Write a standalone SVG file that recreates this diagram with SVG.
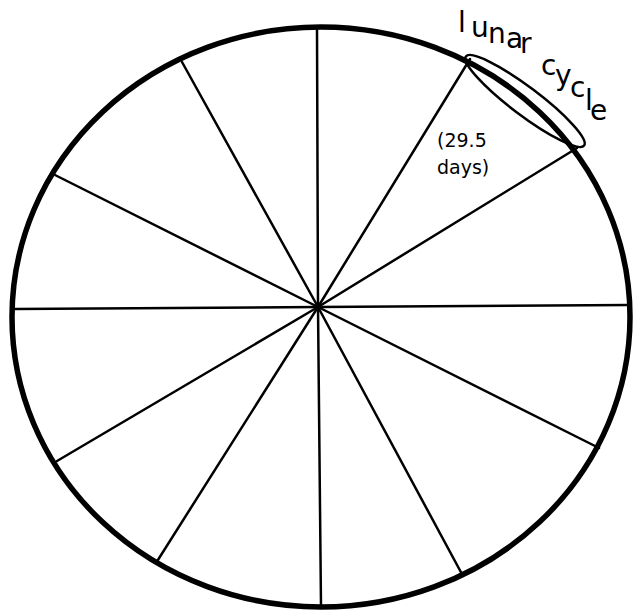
<svg xmlns="http://www.w3.org/2000/svg" width="638" height="611" viewBox="0 0 638 611">
<style>
.rim{fill:none;stroke:#000;stroke-width:5.5}
.spoke{stroke:#000;stroke-width:2.5;stroke-linecap:round}
.oval{fill:none;stroke:#000;stroke-width:2.5}
.lbl{font-family:"DejaVu Sans",sans-serif;fill:#000}
</style>
<rect width="638" height="611" fill="#fff"/>
<g id="connectors">
<line class="spoke" x1="318" y1="307" x2="317" y2="30"/>
<line class="spoke" x1="318" y1="307" x2="470" y2="59"/>
<line class="spoke" x1="318" y1="307" x2="577" y2="148"/>
<line class="spoke" x1="318" y1="307" x2="630" y2="305"/>
<line class="spoke" x1="318" y1="307" x2="599" y2="448"/>
<line class="spoke" x1="318" y1="307" x2="463" y2="576"/>
<line class="spoke" x1="318" y1="307" x2="321" y2="606"/>
<line class="spoke" x1="318" y1="307" x2="156" y2="563"/>
<line class="spoke" x1="318" y1="307" x2="57" y2="461"/>
<line class="spoke" x1="318" y1="307" x2="15" y2="309"/>
<line class="spoke" x1="318" y1="307" x2="55" y2="175"/>
<line class="spoke" x1="318" y1="307" x2="182" y2="62"/>
</g>
<g id="year-circle">
<ellipse class="rim" cx="321" cy="317" rx="309" ry="290"/>
</g>
<g id="lunar-cycle">
<ellipse class="oval" cx="525" cy="101" rx="74" ry="14" transform="rotate(37 525 101)"/>
<text class="lbl" font-size="28" x="458 471 488 506 520 541 555 570 585 590" y="32 37 43 48 53 75 85 97 110 120">lunarcycle</text>
</g>
<g id="duration">
<text class="lbl" font-size="19" x="437" y="147">(29.5</text>
<text class="lbl" font-size="19" x="437" y="174">days)</text>
</g>
</svg>
